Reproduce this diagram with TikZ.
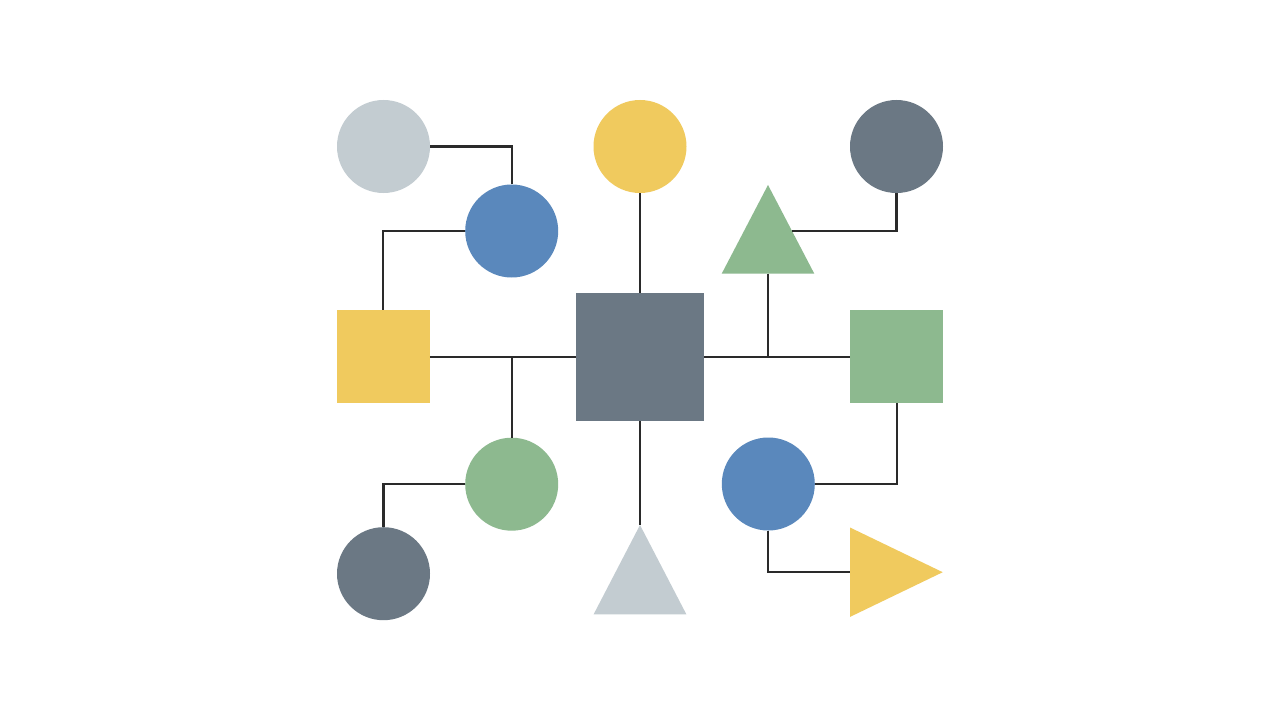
\documentclass[tikz,border=0pt]{standalone}
\usetikzlibrary{shapes.geometric,calc}
\definecolor{cLight}{HTML}{C3CCD1}
\definecolor{cYellow}{HTML}{F0CA5E}
\definecolor{cSlate}{HTML}{6B7884}
\definecolor{cBlue}{HTML}{5A88BC}
\definecolor{cGreen}{HTML}{8DB98F}
\definecolor{cLine}{HTML}{2A2A2A}
\tikzset{
  dot/.style={circle,minimum size=93bp,inner sep=0pt,outer sep=0pt,draw=none},
  sq/.style={rectangle,minimum size=#1,inner sep=0pt,outer sep=0pt,draw=none},
  tri/.style 2 args={isosceles triangle,isosceles triangle stretches,minimum width=#1,minimum height=#2,inner sep=0pt,outer sep=0pt,draw=none},
  link/.style={draw=cLine,line width=2.2bp}
}
\begin{document}
\begin{tikzpicture}[x=1bp,y=-1bp]
\useasboundingbox[fill=white] (0,0) rectangle (1280,714);
% nodes
\node[dot,fill=cLight] (lt1) at (383.5,146.5) {};
\node[dot,fill=cYellow] (yc1) at (640,146.5) {};
\node[dot,fill=cSlate] (dk1) at (896.5,146.5) {};
\node[dot,fill=cBlue] (bl1) at (511.7,231) {};
\node[tri={92.6bp}{88.7bp},fill=cGreen,shape border rotate=90,anchor=apex] (gtri) at (768,185) {};
\node[sq=93bp,fill=cYellow] (ysq) at (383.3,356.8) {};
\node[sq=128.5bp,fill=cSlate] (csq) at (640,356.8) {};
\node[sq=93bp,fill=cGreen] (gsq) at (896.6,356.8) {};
\node[dot,fill=cGreen] (gc1) at (511.7,484.2) {};
\node[dot,fill=cBlue] (bl2) at (768.3,484) {};
\node[dot,fill=cSlate] (dk2) at (383.5,573.7) {};
\node[tri={92.7bp}{89.3bp},fill=cLight,shape border rotate=90,anchor=apex] (ltri) at (640,525) {};
\node[tri={89.4bp}{92.7bp},fill=cYellow,anchor=apex] (ytri) at (942.7,572.2) {};
\coordinate (gtriR) at ($(gtri.apex)!0.52!(gtri.right corner)$);
% connectors
\draw[link] (lt1.east) -| (bl1.north);
\draw[link] (bl1.west) -| (ysq.north);
\draw[link] (yc1.south) -- (csq.north);
\draw[link] (dk1.south) |- (gtriR);
\draw[link] (ysq.east) -- (csq.west);
\draw[link] (csq.east) -- (gsq.west);
\draw[link] (gtri.south) -- (gtri.south |- csq.east);
\draw[link] (gc1.north) -- (gc1.north |- ysq.east);
\draw[link] (csq.south) -- (ltri.apex);
\draw[link] (gc1.west) -| (dk2.north);
\draw[link] (gsq.south) |- (bl2.east);
\draw[link] (bl2.south) |- (ytri.west);
\end{tikzpicture}
\end{document}
